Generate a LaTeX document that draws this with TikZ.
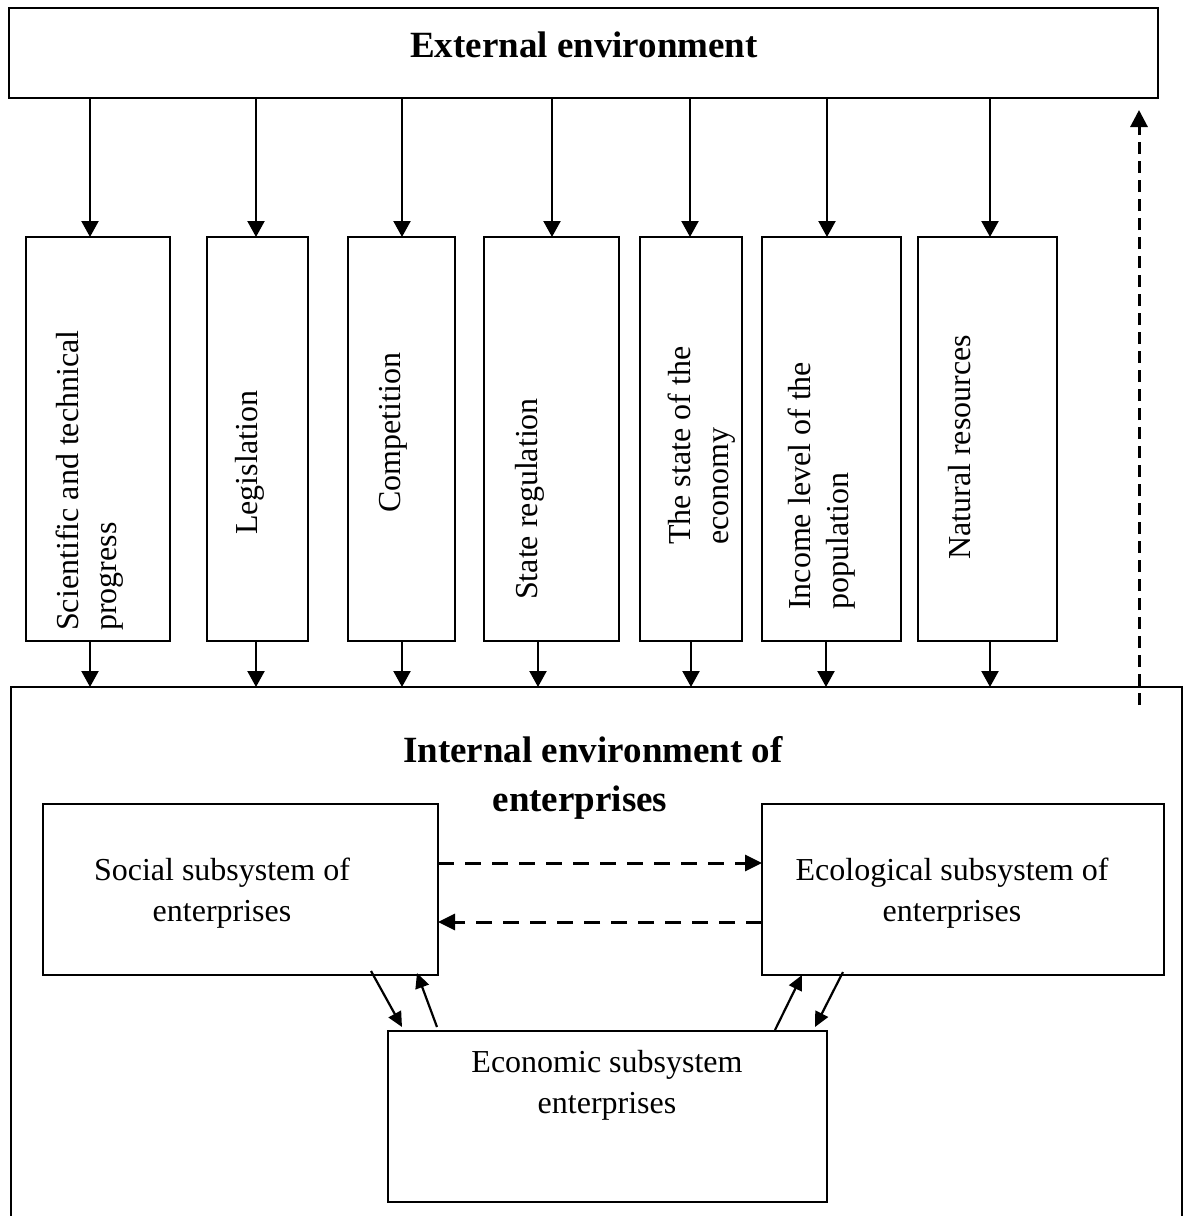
\documentclass[tikz,border=0pt]{standalone}
\usepackage{fontspec}
\setmainfont{Liberation Serif}
\usetikzlibrary{arrows.meta}

\begin{document}
\begin{tikzpicture}[x=1pt,y=-1pt,
  box/.style={draw, line width=1.8pt, inner sep=0pt, outer sep=0pt, anchor=center},
  conn/.style={line width=2.2pt, -{Triangle[width=17pt,length=16pt]}},
  diag/.style={line width=2.2pt, -{Triangle[width=14pt,length=15pt]}},
  dashh/.style={line width=3pt, dash pattern=on 16pt off 11pt, -{Triangle[width=16pt,length=17pt]}},
  dashv/.style={line width=3pt, dash pattern=on 12pt off 7pt, -{Triangle[width=17pt,length=17pt]}},
  vlabel/.style={rotate=90, anchor=north west, align=left, inner sep=0pt, font=\fontsize{32}{38}\selectfont},
  hlabel/.style={align=center, inner sep=0pt, font=\fontsize{32}{41}\selectfont},
  head/.style={inner sep=0pt, anchor=base, font=\bfseries\fontsize{37}{44}\selectfont}]

\useasboundingbox (0,0) rectangle (1184,1216);
\clip (0,0) rectangle (1184,1216);

% outer frame: external environment
\node[box, minimum width=1149pt, minimum height=90pt] (ext) at (583.5,53) {};
\node[head] (extlbl) at (584,57) {External environment};

% factor boxes
\node[box, minimum width=144pt, minimum height=404pt] (f1) at (98,439) {};
\node[box, minimum width=101pt, minimum height=404pt] (f2) at (257.5,439) {};
\node[box, minimum width=107pt, minimum height=404pt] (f3) at (401.5,439) {};
\node[box, minimum width=135pt, minimum height=404pt] (f4) at (551.5,439) {};
\node[box, minimum width=102pt, minimum height=404pt] (f5) at (691,439) {};
\node[box, minimum width=139pt, minimum height=404pt] (f6) at (831.5,439) {};
\node[box, minimum width=139pt, minimum height=404pt] (f7) at (987.5,439) {};

\node[vlabel] (l1) at (56,631) {Scientific and technical\\progress};
\node[vlabel] (l2) at (235,535) {Legislation};
\node[vlabel] (l3) at (379,513) {Competition};
\node[vlabel] (l4) at (515,600) {State regulation};
\node[vlabel] (l5) at (668,545) {The state of the\\economy};
\node[vlabel] (l6) at (788,610) {Income level of the\\population};
\node[vlabel] (l7) at (948,560) {Natural resources};

% internal environment frame and subsystems
\node[box, minimum width=1171pt, minimum height=553pt] (int) at (596.5,963.5) {};
\node[head] (intlbl1) at (593,762) {Internal environment of};
\node[head] (intlbl2) at (580,811) {enterprises};

\node[box, minimum width=395pt, minimum height=171pt] (soc) at (240.5,889.5) {};
\node[box, minimum width=402pt, minimum height=171pt] (eco) at (963,889.5) {};
\node[box, minimum width=439pt, minimum height=171pt] (ecn) at (607.5,1116.5) {};

\node[hlabel] (soclbl) at (222,893) {Social subsystem of\\enterprises};
\node[hlabel] (ecolbl) at (952,893) {Ecological subsystem of\\enterprises};
\node[hlabel] (ecnlbl) at (607,1085) {Economic subsystem\\enterprises};

% arrow columns
\coordinate (t1) at (90,0);  \coordinate (t2) at (256,0); \coordinate (t3) at (402,0);
\coordinate (t4) at (552,0); \coordinate (t5) at (690,0); \coordinate (t6) at (827,0);
\coordinate (t7) at (990,0);
\coordinate (b1) at (90,0);  \coordinate (b2) at (256,0); \coordinate (b3) at (402,0);
\coordinate (b4) at (538,0); \coordinate (b5) at (691,0); \coordinate (b6) at (826,0);
\coordinate (b7) at (990,0);

\foreach \i in {1,...,7}{
  \draw[conn] (ext.south -| t\i) -- (f\i.north -| t\i);
  \draw[conn] (f\i.south -| b\i) -- (int.north -| b\i);
}

% feedback to the external environment
\coordinate (fbstart) at (1139,705);
\coordinate (fbtip) at (1139,110);
\draw[dashv] (fbstart) -- (fbtip);

% links between social and ecological subsystems
\coordinate (h1) at (0,863);
\coordinate (h2) at (0,922);
\draw[dashh] (soc.east |- h1) -- (eco.west |- h1);
\draw[dashh] (eco.west |- h2) -- (soc.east |- h2);

% links with the economic subsystem
\coordinate (a1s) at (371,971);  \coordinate (a1e) at (402,1027);
\coordinate (a2s) at (437,1027); \coordinate (a2e) at (417,973);
\coordinate (a3s) at (775,1030); \coordinate (a3e) at (802,975);
\coordinate (a4s) at (843,972);  \coordinate (a4e) at (815,1027);
\draw[diag] (a1s) -- (a1e);
\draw[diag] (a2s) -- (a2e);
\draw[diag] (a3s) -- (a3e);
\draw[diag] (a4s) -- (a4e);
\end{tikzpicture}
\end{document}
